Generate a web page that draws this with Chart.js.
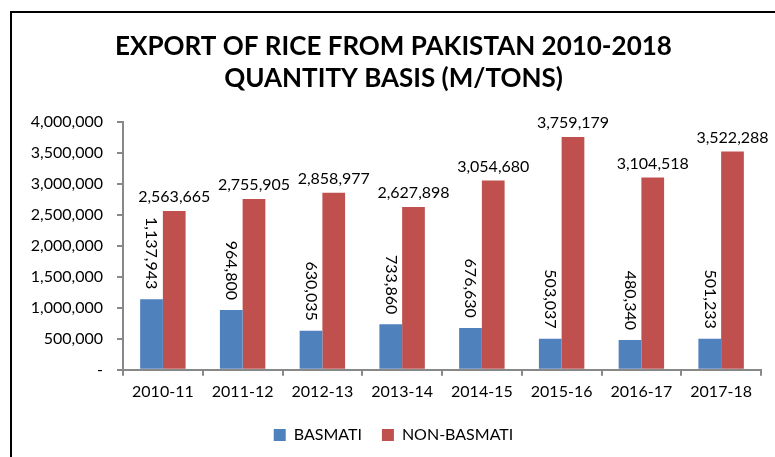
<!DOCTYPE html>
<html>
<head>
<meta charset="utf-8">
<script src="https://cdn.jsdelivr.net/npm/chart.js@4/dist/chart.umd.min.js"></script>
<style>
  html, body { margin: 0; padding: 0; background: #fff; }
  #wrap { width: 775px; height: 457px; position: relative; }
</style>
</head>
<body>
<div id="wrap"><canvas id="riceChart" width="775" height="457"></canvas></div>
<script>
// data
const years = ["2010-11", "2011-12", "2012-13", "2013-14", "2014-15", "2015-16", "2016-17", "2017-18"];
const basmati = [1137943, 964800, 630035, 733860, 676630, 503037, 480340, 501233];
const nonBasmati = [2563665, 2755905, 2858977, 2627898, 3054680, 3759179, 3104518, 3522288];
const titleLines = ["EXPORT OF RICE FROM PAKISTAN 2010-2018", "QUANTITY BASIS (M/TONS)"];

const FONT = "Lato, 'Open Sans', sans-serif";
const fmt = (v) => v.toLocaleString("en-US");

// outer frame like the excel chart border
const framePlugin = {
  id: "frame",
  beforeDraw(chart) {
    const ctx = chart.ctx;
    ctx.save();
    ctx.fillStyle = "#fff";
    ctx.fillRect(0, 0, chart.width, chart.height);
    ctx.strokeStyle = "#000";
    ctx.lineWidth = 2;
    ctx.strokeRect(11, 12, 900, 600);
    ctx.restore();
  }
};

// value labels: basmati rotated, non-basmati flat on top
const labelPlugin = {
  id: "valueLabels",
  afterDatasetsDraw(chart) {
    const ctx = chart.ctx;
    ctx.save();
    ctx.fillStyle = "#000";
    ctx.font = "16px " + FONT;
    chart.data.datasets.forEach((ds, i) => {
      const meta = chart.getDatasetMeta(i);
      meta.data.forEach((bar, j) => {
        const txt = fmt(ds.data[j]);
        if (i === 0) {
          ctx.save();
          ctx.translate(bar.x, bar.y - 10);
          ctx.rotate(Math.PI / 2);
          ctx.textAlign = "right";
          ctx.textBaseline = "middle";
          ctx.fillText(txt, 0, 0);
          ctx.restore();
        } else {
          ctx.textAlign = "center";
          ctx.textBaseline = "bottom";
          ctx.fillText(txt, bar.x, bar.y - 6);
        }
      });
    });
    ctx.restore();
  }
};

new Chart(document.getElementById("riceChart"), {
  type: "bar",
  data: {
    labels: years,
    datasets: [
      { label: "BASMATI", data: basmati, backgroundColor: "#4F81BD", borderColor: "#4F81BD", borderWidth: 0 },
      { label: "NON-BASMATI", data: nonBasmati, backgroundColor: "#C0504D", borderColor: "#C0504D", borderWidth: 0 }
    ]
  },
  options: {
    responsive: false,
    animation: false,
    layout: { padding: { left: 26, right: 14, top: 30, bottom: 4 } },
    datasets: { bar: { barPercentage: 1, categoryPercentage: 0.57 } },
    plugins: {
      title: {
        display: true,
        text: titleLines,
        color: "#000",
        font: { family: FONT, size: 26, weight: "bold", lineHeight: 1.25 },
        padding: { top: 0, bottom: 27 }
      },
      legend: {
        position: "bottom",
        labels: {
          color: "#000",
          font: { family: FONT, size: 16 },
          boxWidth: 12,
          boxHeight: 12,
          padding: 20
        }
      },
      tooltip: { enabled: false }
    },
    scales: {
      x: {
        grid: { drawOnChartArea: false, drawTicks: true, tickLength: 6, color: "#888", lineWidth: 2 },
        border: { color: "#888", width: 2 },
        ticks: { color: "#000", font: { family: FONT, size: 16 }, padding: 6, maxRotation: 0 }
      },
      y: {
        min: 0,
        max: 4000000,
        afterFit(scale) { scale.width = 97; },
        grid: { drawOnChartArea: false, drawTicks: true, tickLength: 6, color: "#888", lineWidth: 2 },
        border: { color: "#888", width: 2 },
        ticks: {
          stepSize: 500000,
          color: "#000",
          font: { family: FONT, size: 16 },
          padding: 14,
          callback: (v) => (v === 0 ? "-" : fmt(v))
        }
      }
    }
  },
  plugins: [framePlugin, labelPlugin]
});
</script>
</body>
</html>
